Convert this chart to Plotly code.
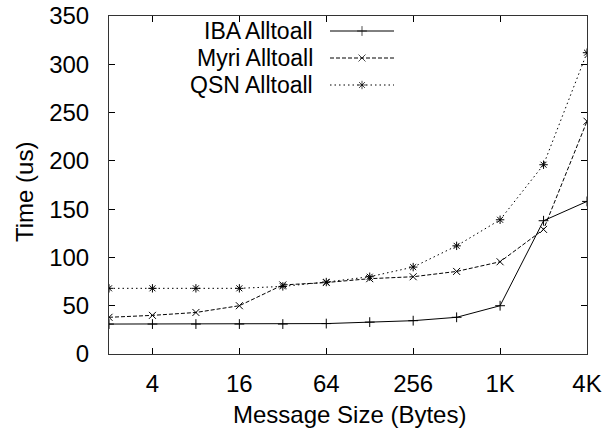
import plotly.graph_objects as go

sizes = [2, 4, 8, 16, 32, 64, 128, 256, 512, 1024, 2048, 4096]
iba = [31, 31, 31, 31, 31, 31.5, 33, 34.5, 38, 50, 138, 158]
myri = [38, 40, 43, 50, 71.5, 74, 78, 80, 85.5, 95.5, 129, 241]
qsn = [68, 68, 68, 68, 70, 74.5, 80, 90, 112, 139, 196, 312]
series_names = ["IBA Alltoall", "Myri Alltoall", "QSN Alltoall"]
tick_vals = [4, 16, 64, 256, 1024, 4096]
tick_text = ["4", "16", "64", "256", "1K", "4K"]
y_ticks = [0, 50, 100, 150, 200, 250, 300, 350]

FONT = "Liberation Sans, Arial, Helvetica, sans-serif"
FS = 24
LEG_FS = 23
styles = [
    dict(dash="solid", symbol="cross-thin"),
    dict(dash="4px,2px", symbol="x-thin"),
    dict(dash="1.5px,3px", symbol="asterisk-open"),
]

# plot area in page pixels: x 109..587, y 16..354 (body margin removed)
W, H = 614, 434
L, R, T, B = 109, 27, 16, 80
PW, PH = W - L - R, H - T - B


def px(x):
    return (x - L) / PW


def py(y):
    return (H - B - y) / PH


fig = go.Figure()
for name, vals, st in zip(series_names, [iba, myri, qsn], styles):
    fig.add_trace(go.Scatter(
        x=sizes, y=vals, mode="lines+markers", name=name,
        line=dict(color="black", width=1, dash=st["dash"]),
        marker=dict(symbol=st["symbol"], size=7, color="black",
                    line=dict(color="black", width=1)),
        showlegend=False,
    ))

# custom legend (text right-aligned, sample to the right)
leg_y = [31, 58, 85]
for name, st, ly in zip(series_names, styles, leg_y):
    yy = py(ly)
    fig.add_trace(go.Scatter(
        x=[px(330), px(362), px(394)], y=[yy, yy, yy], mode="lines+markers",
        xaxis="x2", yaxis="y2",
        line=dict(color="black", width=1, dash=st["dash"]),
        marker=dict(symbol=st["symbol"], size=[0, 7, 0], color="black",
                    line=dict(color="black", width=1)),
        showlegend=False, hoverinfo="skip",
    ))
    fig.add_annotation(x=px(314), y=yy, xref="x2", yref="y2", text=name,
                       showarrow=False, xanchor="right", yanchor="middle",
                       borderpad=0,
                       font=dict(family=FONT, size=LEG_FS, color="black"))

# axis titles
fig.add_annotation(x=px(349), y=py(414), xref="paper", yref="paper",
                   text="Message Size (Bytes)", showarrow=False,
                   xanchor="center", yanchor="middle",
                   font=dict(family=FONT, size=FS, color="black"))
fig.add_annotation(x=px(24), y=py(192), xref="paper", yref="paper",
                   text="Time (us)", showarrow=False, textangle=-90,
                   xanchor="center", yanchor="middle",
                   font=dict(family=FONT, size=FS, color="black"))

fig.update_layout(
    width=W, height=H,
    margin=dict(l=L, r=R, t=T, b=B),
    paper_bgcolor="white", plot_bgcolor="white",
    font=dict(family=FONT, size=FS, color="black"),
    hovermode=False,
    xaxis=dict(
        type="log", range=[0.30103, 3.61236],
        tickvals=tick_vals, ticktext=tick_text,
        ticks="inside", ticklen=6, tickcolor="black",
        showline=True, linecolor="#333", linewidth=1, mirror="ticks",
        showgrid=False, zeroline=False, automargin=False,
        ticklabelstandoff=8, ticklabeloverflow="allow",
    ),
    yaxis=dict(
        range=[0, 350], tickvals=y_ticks,
        ticks="inside", ticklen=6, tickcolor="black",
        showline=True, linecolor="#333", linewidth=1, mirror="ticks",
        showgrid=False, zeroline=False, automargin=False,
        ticklabelstandoff=14, ticklabeloverflow="allow",
    ),
    xaxis2=dict(range=[0, 1], overlaying="x", visible=False, fixedrange=True),
    yaxis2=dict(range=[0, 1], overlaying="y", visible=False, fixedrange=True),
)

fig.write_html("out.html",
               config={"displayModeBar": False, "staticPlot": True},
               post_script="document.body.style.margin='0';")
